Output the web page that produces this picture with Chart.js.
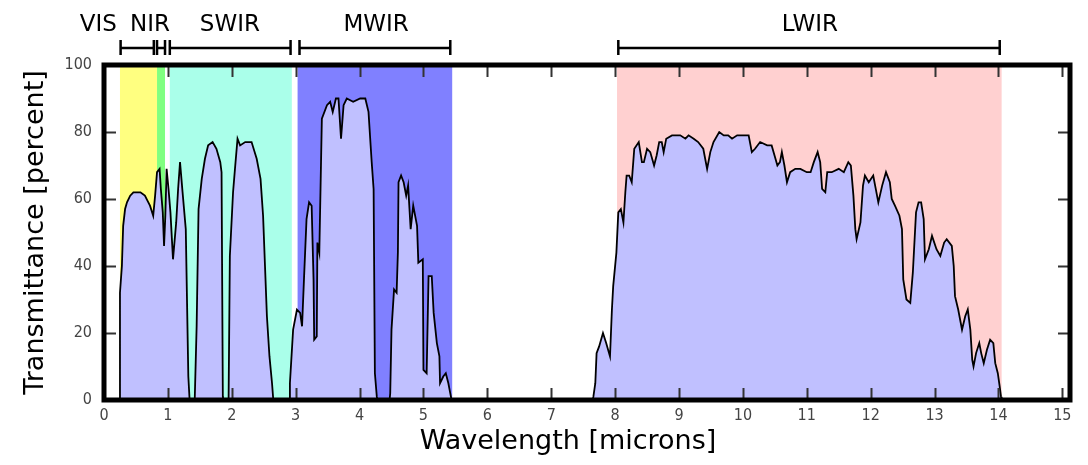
<!DOCTYPE html>
<html>
<head>
<meta charset="utf-8">
<script src="https://cdn.jsdelivr.net/npm/chart.js@4.4.1/dist/chart.umd.min.js"></script>
<style>
  html, body { margin: 0; padding: 0; background: #fff; }
  #wrap { width: 1088px; height: 465px; }
</style>
</head>
<body>
<div id="wrap"><canvas id="myChart" width="1088" height="465"></canvas></div>
<script>
// atmospheric transmittance
var wavelength = [
  0.24, 0.25, 0.28, 0.30, 0.33, 0.36, 0.41, 0.46, 0.51, 0.57, 0.64, 0.68, 0.72, 0.77, 0.80, 0.83, 0.87, 0.89,
  0.92, 0.94, 0.96, 0.98,
  1.01, 1.04, 1.08, 1.13, 1.16, 1.19, 1.23, 1.28, 1.32, 1.34, 1.42, 1.45, 1.48, 1.53, 1.58, 1.63, 1.70, 1.76,
  1.82, 1.84, 1.86, 1.87, 1.95, 1.97, 2.02, 2.05, 2.09, 2.13, 2.21, 2.31, 2.39, 2.45, 2.49, 2.52, 2.55, 2.59,
  2.63, 2.65, 2.90, 2.91, 2.96, 3.02, 3.07, 3.10, 3.13, 3.17, 3.21, 3.25, 3.28, 3.29, 3.33, 3.34, 3.37, 3.41,
  3.49, 3.54, 3.58, 3.63, 3.67, 3.71, 3.75, 3.80, 3.90, 4.01, 4.09, 4.14, 4.19, 4.22, 4.24, 4.27, 4.28, 4.47,
  4.48, 4.50, 4.54, 4.58, 4.60, 4.61, 4.65, 4.69, 4.73, 4.76, 4.80, 4.84, 4.90, 4.92, 4.99, 5.00, 5.05, 5.08,
  5.13, 5.16, 5.21, 5.25, 5.26, 5.31, 5.35, 5.39, 5.43, 5.44,
  7.65, 7.66, 7.69, 7.71, 7.75, 7.81, 7.86, 7.92, 7.95, 7.97, 8.02, 8.05, 8.09, 8.13, 8.16, 8.18, 8.22, 8.26,
  8.30, 8.37, 8.42, 8.45, 8.50, 8.55, 8.61, 8.65, 8.69, 8.73, 8.76, 8.80, 8.89, 9.02, 9.10, 9.15, 9.23, 9.30,
  9.38, 9.44, 9.49, 9.54, 9.63, 9.70, 9.77, 9.83, 9.91, 10.01, 10.09, 10.14, 10.19, 10.27, 10.38, 10.45, 10.51,
  10.54, 10.58, 10.61, 10.65, 10.69, 10.74, 10.82, 10.90, 11.00, 11.06, 11.11, 11.17, 11.21, 11.24, 11.29,
  11.32, 11.39, 11.50, 11.58, 11.65, 11.69, 11.73, 11.76, 11.78, 11.84, 11.88, 11.91, 11.97, 12.04, 12.07,
  12.12, 12.18, 12.24, 12.30, 12.33, 12.38, 12.45, 12.49, 12.51, 12.56, 12.62, 12.66, 12.71, 12.75, 12.79,
  12.83, 12.85, 12.91, 12.96, 13.03, 13.09, 13.15, 13.19, 13.27, 13.30, 13.32, 13.37, 13.43, 13.48, 13.52,
  13.56, 13.59, 13.61, 13.65, 13.70, 13.73, 13.77, 13.82, 13.87, 13.92, 13.95, 13.99, 14.02, 14.04, 14.05
];
var transmittance = [
  0, 32, 40, 52, 57, 59, 61, 62, 62, 62, 61, 59.5, 58, 55, 61, 68, 69, 63,
  56, 46, 55, 69,
  63, 56, 42, 53, 63, 71, 62, 51, 7, 0, 0, 22, 57, 66, 72, 76, 77, 75,
  71, 68, 1, 0, 0, 43, 62, 69, 78, 76, 77, 77, 72, 66, 55, 40, 25, 13,
  5, 0, 0, 5, 21, 27, 26, 22, 36, 54, 59, 58, 36, 18, 19, 47, 44, 84,
  88, 89, 86, 90, 90, 78, 88, 90, 89, 90, 90, 86, 71, 63, 8, 1, 0, 0,
  2, 21, 33, 32, 44, 65, 67, 65, 61, 64, 51, 58, 52, 41, 42, 9, 8, 37,
  37, 26, 17, 13, 5, 7, 8, 5, 1, 0,
  0, 1, 5, 14, 16, 20, 17, 13, 27, 34, 44, 56, 57, 53, 62, 67, 67, 65,
  75, 77, 71, 71, 75, 74, 70, 73, 77, 77, 74, 78, 79, 79, 78, 79, 78, 77,
  75, 69, 74, 77, 80, 79, 79, 78, 79, 79, 79, 74, 75, 77, 76, 76, 72,
  70, 71, 74, 70, 65, 68, 69, 69, 68, 68, 71, 74, 71, 63, 62,
  68, 68, 69, 68, 71, 70, 61, 51, 48, 53, 64, 67, 65, 67, 64,
  59, 64, 68, 65, 60, 58, 55, 51, 36, 30, 29, 38, 56, 59, 59,
  54, 42, 45, 49, 45, 43, 47, 48, 46, 40, 31, 27, 21, 25, 27,
  21, 12, 10, 14, 17, 14, 11, 15, 18, 17, 11, 8, 4, 1, 0
];

// spectral bands (microns)
var bandNames  = ["VIS", "NIR", "SWIR", "MWIR", "LWIR"];
var bandStart  = [0.25, 0.83, 1.03, 3.03, 8.03];
var bandEnd    = [0.83, 0.955, 2.94, 5.45, 14.05];
var bandColors = ["#ffff80", "#80ff80", "#aaffea", "#8080ff", "#ffd0d0"];
// brackets above the plot
var bracketStart = [0.26, 0.83, 1.03, 3.06, 8.05];
var bracketEnd   = [0.78, 0.955, 2.92, 5.42, 14.02];
var labelAt      = [-0.09, 0.72, 1.97, 4.26, 11.05];

var xTicksMax = 15.12;
var yTicks = [0, 20, 40, 60, 80, 100];

var points = [];
for (var i = 0; i < wavelength.length; i++) { points.push({ x: wavelength[i], y: transmittance[i] }) }

var bandsPlugin = {
  id: 'bands',
  beforeDatasetsDraw: function(chart) {
    var ctx = chart.ctx, a = chart.chartArea, xs = chart.scales.x;
    ctx.save();
    for (var i = 0; i < bandStart.length; i++) {
      var x0 = xs.getPixelForValue(bandStart[i]);
      var x1 = xs.getPixelForValue(bandEnd[i]);
      ctx.fillStyle = bandColors[i];
      ctx.fillRect(x0, a.top, x1 - x0, a.bottom - a.top);
    }
    ctx.restore();
  },
  afterDraw: function(chart) {
    var ctx = chart.ctx, a = chart.chartArea, xs = chart.scales.x, ys = chart.scales.y;
    ctx.save();
    // inward ticks
    ctx.strokeStyle = '#333';
    ctx.lineWidth = 2;
    xs.ticks.forEach(function(t) {
      var px = Math.round(xs.getPixelForValue(t.value)) + 0.5;
      ctx.beginPath();
      ctx.moveTo(px, a.bottom); ctx.lineTo(px, a.bottom - 12);
      ctx.moveTo(px, a.top); ctx.lineTo(px, a.top + 12);
      ctx.stroke();
    });
    ys.ticks.forEach(function(t) {
      var py = Math.round(ys.getPixelForValue(t.value)) + 0.5;
      ctx.beginPath();
      ctx.moveTo(a.left, py); ctx.lineTo(a.left + 12, py);
      ctx.moveTo(a.right, py); ctx.lineTo(a.right - 12, py);
      ctx.stroke();
    });
    // thick frame
    ctx.strokeStyle = '#000';
    ctx.lineWidth = 5;
    ctx.strokeRect(a.left, a.top, a.right - a.left, a.bottom - a.top);
    // band brackets + names
    ctx.lineWidth = 2.5;
    ctx.fillStyle = '#000';
    ctx.font = '23px "DejaVu Sans", sans-serif';
    ctx.textAlign = 'center';
    ctx.textBaseline = 'alphabetic';
    for (var i = 0; i < bandNames.length; i++) {
      var x0 = xs.getPixelForValue(bracketStart[i]);
      var x1 = xs.getPixelForValue(bracketEnd[i]);
      ctx.beginPath();
      ctx.moveTo(x0, 48); ctx.lineTo(x1, 48);
      ctx.moveTo(x0, 40); ctx.lineTo(x0, 55);
      ctx.moveTo(x1, 40); ctx.lineTo(x1, 55);
      ctx.stroke();
      ctx.fillText(bandNames[i], xs.getPixelForValue(labelAt[i]), 31);
    }
    // axis titles
    ctx.font = '27px "DejaVu Sans", sans-serif';
    ctx.textBaseline = 'middle';
    ctx.fillText('Wavelength [microns]', 568, 442);
    ctx.translate(36, (a.top + a.bottom) / 2);
    ctx.rotate(-Math.PI / 2);
    ctx.fillText('Transmittance [percent]', 0, 0);
    ctx.restore();
  }
};

var tickFont = { family: "'Liberation Sans Narrow', 'DejaVu Sans Condensed', sans-serif", size: 16 };

var ctx = document.getElementById('myChart').getContext('2d');
var myChart = new Chart(ctx, {
  type: 'line',
  data: {
    datasets: [{
      label: 'Transmittance',
      data: points,
      borderColor: '#000',
      borderWidth: 1.8,
      backgroundColor: '#c0c0ff',
      fill: 'origin',
      pointRadius: 0,
      tension: 0
    }]
  },
  options: {
    responsive: false,
    animation: false,
    events: [],
    layout: { padding: { top: 65, right: 18, left: 0, bottom: 0 } },
    plugins: { legend: { display: false }, tooltip: { enabled: false } },
    scales: {
      x: {
        type: 'linear',
        min: 0,
        max: xTicksMax,
        grid: { display: false, drawTicks: false },
        border: { display: false },
        ticks: { stepSize: 1, includeBounds: false, padding: 6, color: '#444', font: tickFont, maxRotation: 0 },
        afterFit: function(s) { s.height = 65; }
      },
      y: {
        min: yTicks[0],
        max: yTicks[yTicks.length - 1],
        grid: { display: false, drawTicks: false },
        border: { display: false },
        ticks: { stepSize: 20, padding: 12, color: '#444', font: tickFont },
        afterFit: function(s) { s.width = 104; }
      }
    }
  },
  plugins: [bandsPlugin]
});
</script>
</body>
</html>
